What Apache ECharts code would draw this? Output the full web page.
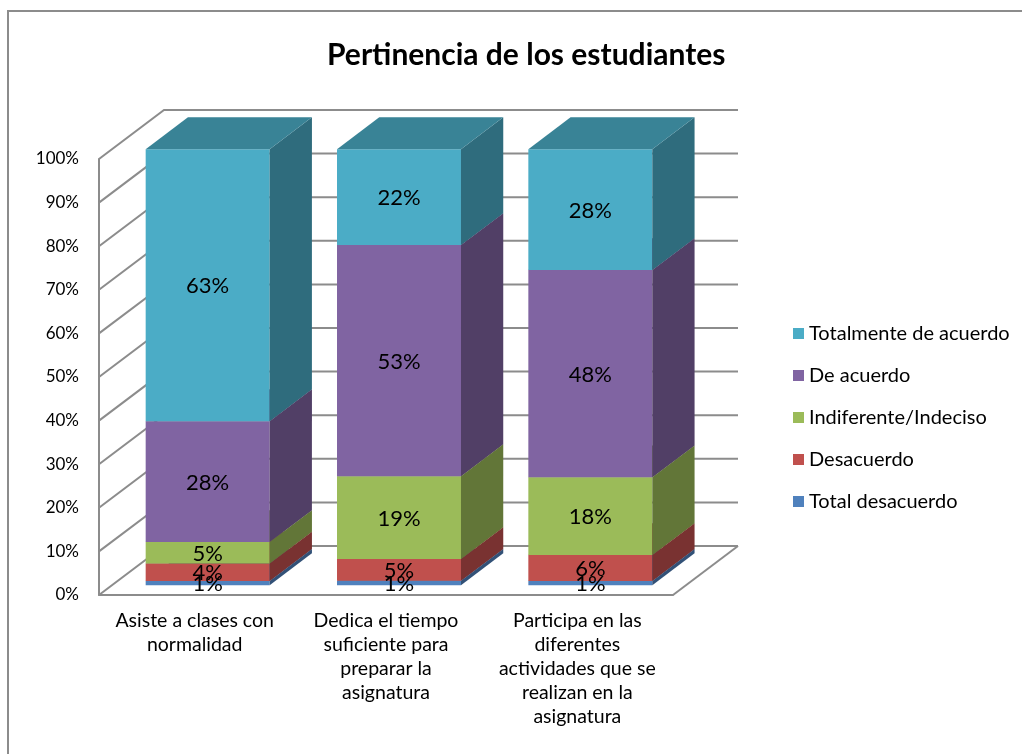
<!DOCTYPE html>
<html><head><meta charset="utf-8">
<script src="https://cdn.jsdelivr.net/npm/echarts@6/dist/echarts.min.js"></script>
<style>html,body{margin:0;padding:0;background:#fff}#c{width:1022px;height:754px}</style>
</head><body><div id="c"></div>
<script>
// ---- data ----
const categories = [
  'Asiste a clases con\nnormalidad',
  'Dedica el tiempo\nsuficiente para\npreparar la\nasignatura',
  'Participa en las\ndiferentes\nactividades que se\nrealizan en la\nasignatura'
];
const seriesNames = ['Total desacuerdo', 'Desacuerdo', 'Indiferente/Indeciso', 'De acuerdo', 'Totalmente de acuerdo'];
const totalDesacuerdo = [1, 1, 1];
const desacuerdo = [4, 5, 6];
const indiferente = [5, 19, 18];
const deAcuerdo = [28, 53, 48];
const totalmenteDeAcuerdo = [63, 22, 28];
const yTicks = [0, 10, 20, 30, 40, 50, 60, 70, 80, 90, 100];
const baseColors = ['#4F81BD', '#C0504D', '#9BBB59', '#8064A2', '#4BACC6'];

const values = [totalDesacuerdo, desacuerdo, indiferente, deAcuerdo, totalmenteDeAcuerdo];
const totals = categories.map((c, i) => values.reduce((a, arr) => a + arr[i], 0));

// ---- 3D look ----
const DX = 65, DY = -49;       // depth vector of the walls
const F0 = 0.2, FD = 0.65;     // bar front position and depth, fractions of wall depth
const BAR_FRAC = 0.648;
const FONT = 'Lato, "Open Sans", sans-serif';

function shade(hex, f) {
  const n = parseInt(hex.slice(1), 16);
  const r = Math.round(((n >> 16) & 255) * f), g = Math.round(((n >> 8) & 255) * f), b = Math.round((n & 255) * f);
  return 'rgb(' + r + ',' + g + ',' + b + ')';
}

function barRenderer(s) {
  return function (params, api) {
    const ci = api.value(0);
    const v = api.value(1);
    let base = 0;
    for (let k = 0; k < s; k++) base += values[k][ci];
    const lo = base / totals[ci] * 100, hi = (base + v) / totals[ci] * 100;
    const p0 = api.coord([ci, lo]);
    const p1 = api.coord([ci, hi]);
    const band = api.size([1, 0])[0];
    const w = band * BAR_FRAC;
    const fx = p0[0] - w / 2 + F0 * DX;
    const fy0 = p0[1] + F0 * DY;
    const fy1 = p1[1] + F0 * DY;
    const bx = FD * DX, by = FD * DY;
    const c = baseColors[s];
    return {
      type: 'group',
      children: [
        { type: 'rect', shape: { x: fx, y: fy1, width: w, height: fy0 - fy1 }, style: { fill: c } },
        { type: 'polygon', shape: { points: [[fx + w, fy0], [fx + w + bx, fy0 + by], [fx + w + bx, fy1 + by], [fx + w, fy1]] }, style: { fill: shade(c, 0.63) } },
        { type: 'polygon', shape: { points: [[fx, fy1], [fx + w, fy1], [fx + w + bx, fy1 + by], [fx + bx, fy1 + by]] }, style: { fill: shade(c, 0.76) } },
        { type: 'text', z2: 100, style: { x: fx + w / 2, y: (fy0 + fy1) / 2 + 1, text: v + '%', fill: '#000', font: '22px ' + FONT, align: 'center', verticalAlign: 'middle' } }
      ]
    };
  };
}

function gridRenderer(params, api) {
  const cs = params.coordSys;
  const v = api.value(1);
  const y = api.coord([0, v])[1];
  const pts = [[cs.x, y], [cs.x + DX, y + DY], [cs.x + cs.width + DX, y + DY]];
  const children = [{ type: 'polyline', shape: { points: pts }, style: { stroke: '#8c8c8c', lineWidth: 2, fill: null } }];
  if (v === 0) {
    children.push({ type: 'line', shape: { x1: cs.x + cs.width, y1: y, x2: cs.x + cs.width + DX, y2: y + DY }, style: { stroke: '#8c8c8c', lineWidth: 2 } });
  }
  return { type: 'group', children: children };
}

const series = [{
  type: 'custom', name: 'grid', silent: true, z: 1, clip: false,
  renderItem: gridRenderer,
  data: yTicks.map(t => [0, t]),
  encode: { x: 0, y: 1 }
}];
seriesNames.forEach((n, s) => {
  series.push({
    type: 'custom', name: n, z: 2, clip: false,
    itemStyle: { color: baseColors[s] },
    renderItem: barRenderer(s),
    data: categories.map((c, i) => [i, values[s][i]]),
    encode: { x: 0, y: 1 }
  });
});

const chart = echarts.init(document.getElementById('c'), null, { renderer: 'canvas' });
chart.setOption({
  animation: false,
  backgroundColor: '#fff',
  title: {
    text: 'Pertinencia de los estudiantes',
    left: 322, top: 35,
    textStyle: { fontFamily: FONT, fontWeight: 'bold', fontSize: 30, color: '#000' }
  },
  graphic: [{
    type: 'rect', silent: true, z: 0,
    shape: { x: 8, y: 11, width: 1100, height: 900 },
    style: { fill: null, stroke: '#8c8c8c', lineWidth: 2 }
  }],
  legend: {
    orient: 'vertical', left: 788, top: 317,
    data: seriesNames.slice().reverse(),
    icon: 'rect', itemWidth: 11, itemHeight: 11, itemGap: 19,
    textStyle: { fontFamily: FONT, fontSize: 20, color: '#000', lineHeight: 23 }
  },
  grid: { left: 99, top: 159, width: 574, height: 436 },
  xAxis: {
    type: 'category', data: categories,
    axisLine: { show: true, lineStyle: { color: '#8c8c8c', width: 2 } },
    axisTick: { show: false },
    axisLabel: { interval: 0, margin: 14, fontFamily: FONT, fontSize: 19.5, lineHeight: 24, color: '#000' }
  },
  yAxis: {
    type: 'value', min: 0, max: 100, interval: 10,
    axisLine: { show: true, lineStyle: { color: '#8c8c8c', width: 2 } },
    axisTick: { show: false },
    splitLine: { show: false },
    axisLabel: { formatter: '{value}%', margin: 20, fontFamily: FONT, fontSize: 17, color: '#000' }
  },
  series: series
});
</script>
</body></html>
